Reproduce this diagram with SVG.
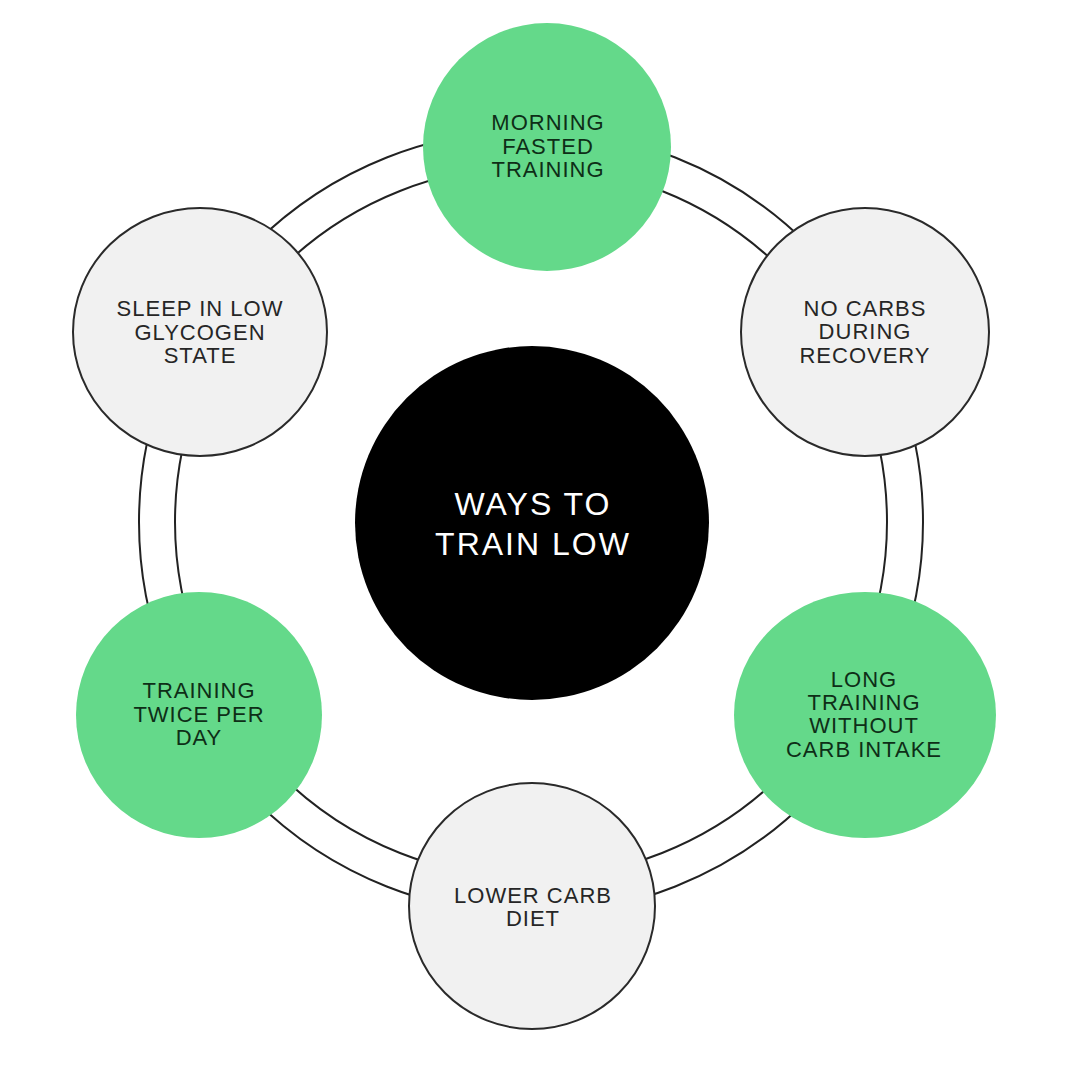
<svg xmlns="http://www.w3.org/2000/svg" width="1080" height="1080" viewBox="0 0 1080 1080">
<style>
.ring{fill:none;stroke:#222;stroke-width:2}
.gray{fill:#f1f1f1;stroke:#2a2a2a;stroke-width:2}
.green{fill:#64d98a}
.lbl{font-family:"Liberation Sans","Noto Sans",sans-serif;font-size:22px;text-anchor:middle;letter-spacing:1px}
.lg{fill:#262626}
.lgr{fill:#0e2e17}
.ctr{font-family:"Liberation Sans","Noto Sans",sans-serif;font-size:32px;text-anchor:middle;fill:#fff;letter-spacing:2px}
</style>
<rect width="1080" height="1080" fill="#fff"/>
<g id="connectors">
<circle class="ring" cx="531" cy="522" r="392"/>
<circle class="ring" cx="531" cy="522" r="356"/>
</g>
<g id="center">
<circle cx="532" cy="523" r="177" fill="#000"/>
<text class="ctr" x="533" y="515">WAYS TO</text>
<text class="ctr" x="533" y="555">TRAIN LOW</text>
</g>
<g id="node-morning">
<circle class="green" cx="547" cy="147" r="124"/>
<text class="lbl lgr" x="548" y="130">MORNING</text>
<text class="lbl lgr" x="548" y="154">FASTED</text>
<text class="lbl lgr" x="548" y="177">TRAINING</text>
</g>
<g id="node-nocarbs">
<circle class="gray" cx="865" cy="332" r="124"/>
<text class="lbl lg" x="865" y="316">NO CARBS</text>
<text class="lbl lg" x="865" y="339">DURING</text>
<text class="lbl lg" x="865" y="363">RECOVERY</text>
</g>
<g id="node-long">
<ellipse class="green" cx="865" cy="715" rx="131" ry="123"/>
<text class="lbl lgr" x="864" y="687">LONG</text>
<text class="lbl lgr" x="864" y="710">TRAINING</text>
<text class="lbl lgr" x="864" y="733">WITHOUT</text>
<text class="lbl lgr" x="864" y="757">CARB INTAKE</text>
</g>
<g id="node-lowercarb">
<circle class="gray" cx="532" cy="906" r="123"/>
<text class="lbl lg" x="533" y="903">LOWER CARB</text>
<text class="lbl lg" x="533" y="926">DIET</text>
</g>
<g id="node-twice">
<circle class="green" cx="199" cy="715" r="123"/>
<text class="lbl lgr" x="199" y="698">TRAINING</text>
<text class="lbl lgr" x="199" y="722">TWICE PER</text>
<text class="lbl lgr" x="199" y="745">DAY</text>
</g>
<g id="node-sleep">
<ellipse class="gray" cx="200" cy="332" rx="127" ry="124"/>
<text class="lbl lg" x="200" y="316">SLEEP IN LOW</text>
<text class="lbl lg" x="200" y="340">GLYCOGEN</text>
<text class="lbl lg" x="200" y="363">STATE</text>
</g>
</svg>
